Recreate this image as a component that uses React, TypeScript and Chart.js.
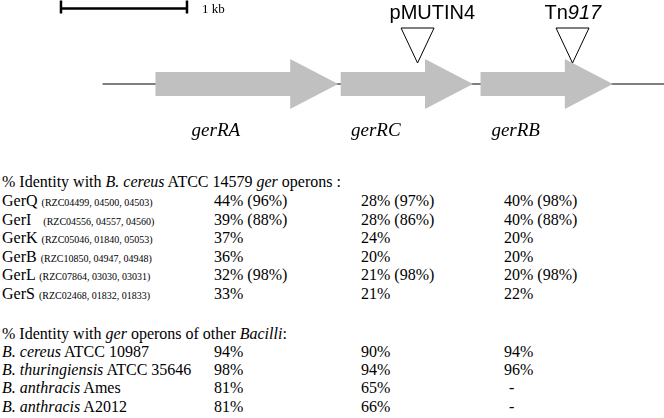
import React, { useEffect, useRef } from 'react';
import { Chart, registerables } from 'chart.js';

Chart.register(...registerables);

// ---- gene map data (kb) ----
const genes = ['gerRA', 'gerRC', 'gerRB'];
const geneStartKb = [0.75, 2.22, 3.33];
const geneEndKb = [2.2, 3.27, 4.38];
const flankStartKb = 0.33;
const flankEndKb = 4.79;
const insertionNames = ['pMUTIN4', 'Tn917'];
const insertionKb = [2.83, 4.06];
const scaleBarKb = 1;
const scaleBarLabel = '1 kb';

// ---- identity table data ----
const cereusHeader = ['% Identity with ', 'B. cereus', ' ATCC 14579 ', 'ger', ' operons :'];
const cereusOperons = ['GerQ', 'GerI', 'GerK', 'GerB', 'GerL', 'GerS'];
const cereusLoci = [
  '(RZC04499, 04500, 04503)',
  '(RZC04556, 04557, 04560)',
  '(RZC05046, 01840, 05053)',
  '(RZC10850, 04947, 04948)',
  '(RZC07864, 03030, 03031)',
  '(RZC02468, 01832, 01833)',
];
const raIdentity = [44, 39, 37, 36, 32, 33];
const raIdentityParen: (number | null)[] = [96, 88, null, null, 98, null];
const rcIdentity = [28, 28, 24, 20, 21, 21];
const rcIdentityParen: (number | null)[] = [97, 86, null, null, 98, null];
const rbIdentity = [40, 40, 20, 20, 20, 22];
const rbIdentityParen: (number | null)[] = [98, 88, null, null, 98, null];

const otherSpecies = ['B. cereus', 'B. thuringiensis', 'B. anthracis', 'B. anthracis'];
const otherStrains = ['ATCC 10987', 'ATCC 35646', 'Ames', 'A2012'];
const otherRA: (number | null)[] = [94, 98, 81, 81];
const otherRC: (number | null)[] = [90, 94, 65, 66];
const otherRB: (number | null)[] = [94, 96, null, null];

const fmt = (v: number | null, p?: number | null) =>
  v == null ? '-' : `${v}%` + (p != null ? ` (${p}%)` : '');

const ARROW_GREY = '#c0c0c0';
const SANS = '"Liberation Sans", Arial, sans-serif';
const SERIF = '"Liberation Serif", "Times New Roman", serif';

const geneMapPlugin = {
  id: 'geneMap',
  beforeDatasetsDraw(chart: any) {
    const { ctx } = chart;
    const xs = chart.scales.x;
    const meta = chart.getDatasetMeta(0);
    const cy = meta.data[0].y;
    ctx.save();
    // backbone
    ctx.strokeStyle = '#555';
    ctx.lineWidth = 1.5;
    ctx.beginPath();
    ctx.moveTo(xs.getPixelForValue(flankStartKb), cy);
    ctx.lineTo(xs.getPixelForValue(flankEndKb), cy);
    ctx.stroke();
    // scale bar
    const sx0 = xs.getPixelForValue(0);
    const sx1 = xs.getPixelForValue(scaleBarKb);
    const sy = cy - 75.5;
    ctx.strokeStyle = '#000';
    ctx.lineWidth = 2.5;
    ctx.beginPath();
    ctx.moveTo(sx0, sy);
    ctx.lineTo(sx1, sy);
    ctx.moveTo(sx0, sy - 8);
    ctx.lineTo(sx0, sy + 5);
    ctx.moveTo(sx1, sy - 8);
    ctx.lineTo(sx1, sy + 5);
    ctx.stroke();
    ctx.fillStyle = '#000';
    ctx.font = `13px ${SERIF}`;
    ctx.textAlign = 'left';
    ctx.textBaseline = 'alphabetic';
    ctx.fillText(scaleBarLabel, sx1 + 15, sy + 4);
    ctx.restore();
  },
  afterDatasetsDraw(chart: any) {
    const { ctx } = chart;
    const xs = chart.scales.x;
    ctx.save();
    let cy = 0;
    chart.data.datasets.forEach((_: any, i: number) => {
      const el = chart.getDatasetMeta(i).data[0];
      const { x, base, y, height } = el.getProps(['x', 'base', 'y', 'height'], true);
      cy = y;
      const left = Math.min(x, base);
      const right = Math.max(x, base);
      const head = 48;
      const bh = height / 2;
      const hh = 25;
      ctx.fillStyle = ARROW_GREY;
      ctx.beginPath();
      ctx.moveTo(left, y - bh);
      ctx.lineTo(right - head, y - bh);
      ctx.lineTo(right - head, y - hh);
      ctx.lineTo(right, y);
      ctx.lineTo(right - head, y + hh);
      ctx.lineTo(right - head, y + bh);
      ctx.lineTo(left, y + bh);
      ctx.closePath();
      ctx.fill();
      // gene label
      ctx.fillStyle = '#000';
      ctx.font = `italic 19px ${SERIF}`;
      ctx.textAlign = 'center';
      ctx.textBaseline = 'alphabetic';
      ctx.fillText(genes[i], (left + right) / 2 - 31, y + 52);
    });
    // insertions
    insertionNames.forEach((name, i) => {
      const px = xs.getPixelForValue(insertionKb[i]);
      ctx.fillStyle = '#fff';
      ctx.strokeStyle = '#000';
      ctx.lineWidth = 1;
      ctx.beginPath();
      ctx.moveTo(px - 16.5, cy - 56);
      ctx.lineTo(px + 16.5, cy - 56);
      ctx.lineTo(px, cy - 21);
      ctx.closePath();
      ctx.fill();
      ctx.stroke();
      ctx.fillStyle = '#000';
      ctx.textAlign = 'left';
      ctx.textBaseline = 'alphabetic';
      const tx = px - 28;
      const ty = cy - 65;
      const m = name.match(/^([^0-9]+?)(\d+)$/);
      if (name.startsWith('Tn') && m) {
        ctx.font = `20px ${SANS}`;
        ctx.fillText(m[1], tx, ty);
        const w = ctx.measureText(m[1]).width;
        ctx.font = `italic 20px ${SANS}`;
        ctx.fillText(m[2], tx + w, ty);
      } else {
        ctx.font = `20px ${SANS}`;
        ctx.fillText(name, tx, ty);
      }
    });
    ctx.restore();
  },
};

const ROW_H = 18.6;
const COLS = [2, 214, 361, 504];

const rowStyle = (top: number): React.CSSProperties => ({
  position: 'absolute',
  top,
  left: 0,
  width: 664,
  height: 18,
  lineHeight: '18px',
  whiteSpace: 'nowrap',
});
const cell = (left: number): React.CSSProperties => ({ position: 'absolute', left, top: 0 });

export default function App() {
  const ref = useRef<HTMLCanvasElement>(null);
  useEffect(() => {
    document.body.style.margin = '0';
    const chart = new Chart(ref.current as HTMLCanvasElement, {
      type: 'bar',
      data: {
        labels: ['operon'],
        datasets: genes.map((g, i) => ({
          label: g,
          data: [[geneStartKb[i], geneEndKb[i]]] as any,
          backgroundColor: 'rgba(0,0,0,0)',
          borderWidth: 0,
          barThickness: 24,
          grouped: false,
        })),
      },
      options: {
        indexAxis: 'y',
        responsive: false,
        animation: false,
        events: [],
        layout: { padding: { top: 40, bottom: 22, left: 0, right: 0 } },
        scales: {
          x: { type: 'linear', min: -0.484, max: 4.786, display: false },
          y: { display: false },
        },
        plugins: { legend: { display: false }, tooltip: { enabled: false } },
      } as any,
      plugins: [geneMapPlugin],
    });
    return () => chart.destroy();
  }, []);

  const sec1Top = 173;
  const sec2Top = 325;

  return (
    <div
      style={{
        position: 'absolute',
        left: 0,
        top: 0,
        width: 664,
        height: 418,
        overflow: 'hidden',
        background: '#fff',
        fontFamily: SERIF,
        fontSize: 16,
        color: '#000',
      }}
    >
      <canvas ref={ref} width={664} height={150} style={{ display: 'block' }} />
      <div style={rowStyle(sec1Top)}>
        <span style={cell(COLS[0])}>
          {cereusHeader[0]}
          <i>{cereusHeader[1]}</i>
          {cereusHeader[2]}
          <i>{cereusHeader[3]}</i>
          {cereusHeader[4]}
        </span>
      </div>
      {cereusOperons.map((op, i) => (
        <div key={op} style={rowStyle(sec1Top + 19 + i * ROW_H)}>
          <span style={cell(COLS[0])}>
            {op}
            {op === 'GerI' ? '\u00a0\u00a0 ' : ' '}
            <span style={{ fontSize: 10 }}>{cereusLoci[i]}</span>
          </span>
          <span style={cell(COLS[1])}>{fmt(raIdentity[i], raIdentityParen[i])}</span>
          <span style={cell(COLS[2])}>{fmt(rcIdentity[i], rcIdentityParen[i])}</span>
          <span style={cell(COLS[3])}>{fmt(rbIdentity[i], rbIdentityParen[i])}</span>
        </div>
      ))}
      <div style={rowStyle(sec2Top)}>
        <span style={cell(COLS[0])}>
          % Identity with <i>ger</i> operons of other <i>Bacilli</i>:
        </span>
      </div>
      {otherSpecies.map((sp, i) => (
        <div key={i} style={rowStyle(sec2Top + 18 + i * 18.2)}>
          <span style={cell(COLS[0])}>
            <i>{sp}</i> {otherStrains[i]}
          </span>
          <span style={cell(COLS[1])}>{fmt(otherRA[i])}</span>
          <span style={cell(COLS[2])}>{fmt(otherRC[i])}</span>
          <span style={cell(otherRB[i] == null ? COLS[3] + 5 : COLS[3])}>{fmt(otherRB[i])}</span>
        </div>
      ))}
    </div>
  );
}
